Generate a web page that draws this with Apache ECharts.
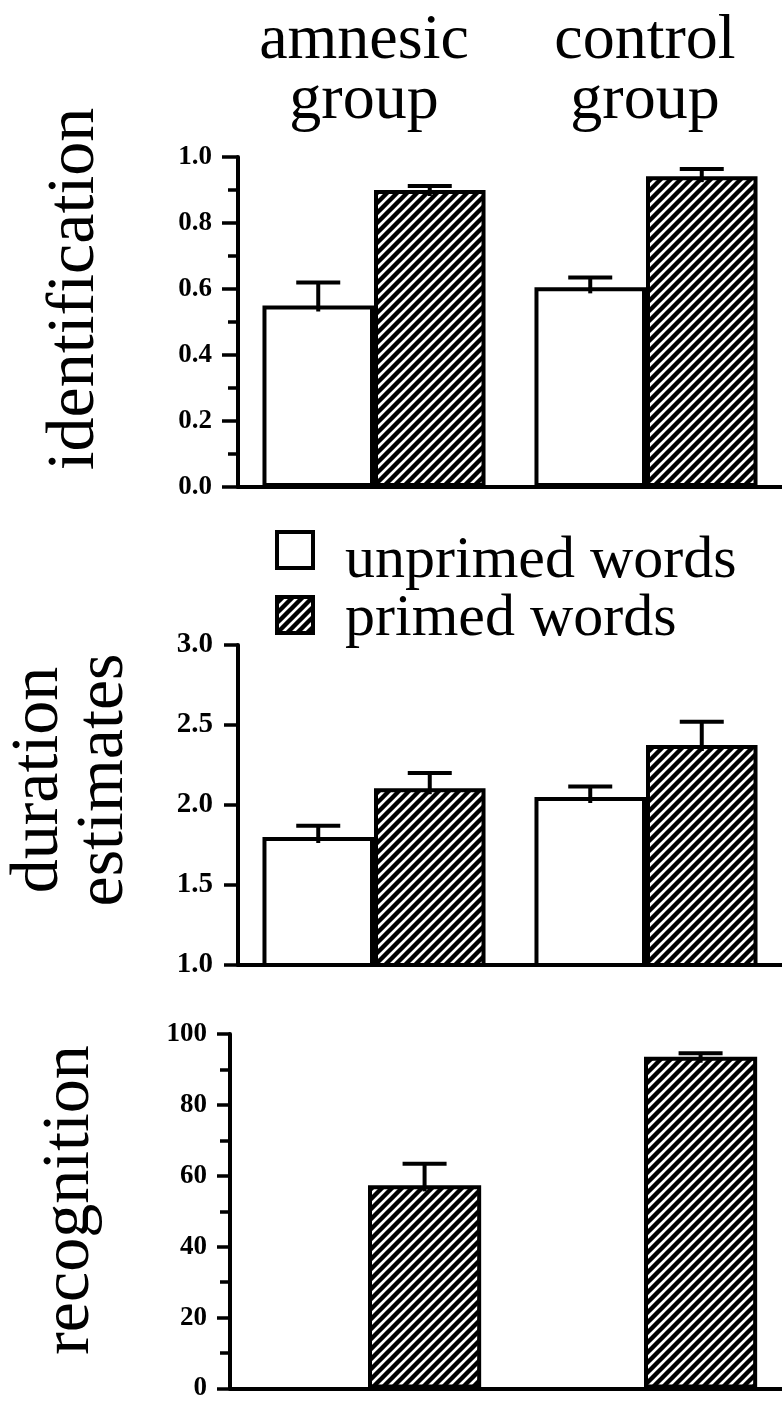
<!DOCTYPE html>
<html>
<head>
<meta charset="utf-8">
<script src="https://cdn.jsdelivr.net/npm/echarts@6/dist/echarts.min.js"></script>
<style>
html,body{margin:0;padding:0;background:#fff;}
#chart{width:782px;height:1402px;}
</style>
</head>
<body>
<div id="chart"></div>
<script>
// ---------------- data ----------------
const categories = ['amnesic group', 'control group'];
const seriesNames = ['unprimed words', 'primed words'];
const groupTitles = ['amnesic\ngroup', 'control\ngroup'];
const panelNames = ['identification', 'duration\nestimates', 'recognition'];

const identUnprimed = [0.55, 0.605];
const identUnprimedErr = [0.07, 0.03];
const identPrimed = [0.90, 0.942];
const identPrimedErr = [0.012, 0.022];

const durUnprimed = [1.80, 2.05];
const durUnprimedErr = [0.07, 0.065];
const durPrimed = [2.105, 2.375];
const durPrimedErr = [0.095, 0.145];

const recogUnprimed = ['-', '-'];
const recogPrimed = [57.3, 93.6];
const recogPrimedErr = [6.1, 1.0];

const identTicks = {min: 0, max: 1, interval: 0.2, digits: 1};
const durTicks = {min: 1, max: 3, interval: 0.5, digits: 1};
const recogTicks = {min: 0, max: 100, interval: 20, digits: 0};

// ---------------- styles ----------------
const SERIF = '"Liberation Serif", "DejaVu Serif", serif';
const BARW = 0.41;

function hatchCanvas() {
  const c = document.createElement('canvas');
  c.width = 10; c.height = 10;
  const g = c.getContext('2d');
  g.fillStyle = '#fff';
  g.fillRect(0, 0, 10, 10);
  g.strokeStyle = '#000';
  g.lineWidth = 4.4;
  g.beginPath();
  g.moveTo(-5, 5); g.lineTo(5, -5);
  g.moveTo(-1, 11); g.lineTo(11, -1);
  g.moveTo(5, 15); g.lineTo(15, 5);
  g.stroke();
  return c;
}
const hatch = {image: hatchCanvas(), repeat: 'repeat'};

const unprimedStyle = {color: '#fff', borderColor: '#000', borderWidth: 4};
const primedStyle = {color: hatch, borderColor: '#000', borderWidth: 4};

function errRender(side) {
  return function (params, api) {
    const i = api.value(0), v = api.value(1), e = api.value(2);
    const base = api.coord([i, v]);
    const top = api.coord([i, v + e]);
    const band = api.size([1, 0])[0];
    const cx = base[0] + side * band * BARW / 2;
    const half = 22;
    return {
      type: 'group',
      children: [
        {type: 'line', shape: {x1: cx, y1: base[1] + 6, x2: cx, y2: top[1]}, style: {stroke: '#000', lineWidth: 4}},
        {type: 'line', shape: {x1: cx - half, y1: top[1], x2: cx + half, y2: top[1]}, style: {stroke: '#000', lineWidth: 4}}
      ]
    };
  };
}
function errData(vals, errs) {
  return vals.map((v, i) => [i, v, errs[i]]);
}

const grids = [
  {left: 238, right: 0, top: 157, height: 330},
  {left: 238, right: 0, top: 645, height: 320},
  {left: 230, right: 0, top: 1034, height: 355}
];

function xAx(gi) {
  return {
    type: 'category', gridIndex: gi, data: categories,
    axisLabel: {show: false}, axisTick: {show: false},
    axisLine: {show: true, lineStyle: {color: '#000', width: 4}}
  };
}
function yAx(gi, t, minor, tickLen, margin, fs) {
  return {
    type: 'value', gridIndex: gi, min: t.min, max: t.max, interval: t.interval,
    splitLine: {show: false},
    axisLine: {show: true, lineStyle: {color: '#000', width: 4}},
    axisTick: {show: true, length: tickLen, lineStyle: {color: '#000', width: 3.5}},
    minorTick: {show: minor, splitNumber: 2, length: 10, lineStyle: {color: '#000', width: 3.5}},
    axisLabel: {
      margin: margin, color: '#000', fontFamily: SERIF, fontWeight: 'bold', fontSize: fs,
      formatter: v => v.toFixed(t.digits)
    }
  };
}

const series = [];
function addPanel(gi, unp, pri, unpErr, priErr) {
  series.push({name: seriesNames[0], type: 'bar', xAxisIndex: gi, yAxisIndex: gi, data: unp,
    barWidth: (BARW * 100) + '%', barGap: '0%', itemStyle: unprimedStyle, silent: true});
  series.push({name: seriesNames[1], type: 'bar', xAxisIndex: gi, yAxisIndex: gi, data: pri,
    barWidth: (BARW * 100) + '%', barGap: '0%', itemStyle: primedStyle, silent: true});
  if (unpErr) series.push({name: 'err', type: 'custom', xAxisIndex: gi, yAxisIndex: gi, z: 3,
    renderItem: errRender(-1), data: errData(unp, unpErr), encode: {x: 0, y: 1}, silent: true});
  if (priErr) series.push({name: 'err', type: 'custom', xAxisIndex: gi, yAxisIndex: gi, z: 3,
    renderItem: errRender(1), data: errData(pri, priErr), encode: {x: 0, y: 1}, silent: true});
}
addPanel(0, identUnprimed, identPrimed, identUnprimedErr, identPrimedErr);
addPanel(1, durUnprimed, durPrimed, durUnprimedErr, durPrimedErr);
addPanel(2, recogUnprimed, recogPrimed, null, recogPrimedErr);

function txt(x, y, text, size, rot, lh, align) {
  return {
    type: 'text', x: x, y: y, rotation: rot || 0, silent: true,
    style: {text: text, fill: '#000', font: size + 'px ' + SERIF, textAlign: align || 'center',
      textVerticalAlign: 'middle', lineHeight: lh || size}
  };
}
function legendBox(y, fill) {
  return {type: 'rect', silent: true, shape: {x: 277, y: y, width: 36, height: 36},
    style: {fill: fill, stroke: '#000', lineWidth: 4}};
}

const option = {
  backgroundColor: '#fff',
  animation: false,
  grid: grids,
  xAxis: [xAx(0), xAx(1), xAx(2)],
  yAxis: [
    yAx(0, identTicks, true, 16, 26, 27),
    yAx(1, durTicks, false, 14, 25, 29),
    yAx(2, recogTicks, true, 13, 23, 27)
  ],
  graphic: [
    txt(364, 71, groupTitles[0], 64, 0, 60),
    txt(645, 71, groupTitles[1], 64, 0, 60),
    txt(75, 289, panelNames[0], 68, Math.PI / 2),
    txt(72, 780, panelNames[1], 68, Math.PI / 2, 65),
    txt(70, 1200, panelNames[2], 68, Math.PI / 2),
    legendBox(532, '#fff'),
    legendBox(597, hatch),
    txt(345, 561, seriesNames[0], 60, 0, 60, 'left'),
    txt(345, 619, seriesNames[1], 60, 0, 60, 'left')
  ],
  series: series
};

const chart = echarts.init(document.getElementById('chart'), null, {renderer: 'canvas'});
chart.setOption(option);
</script>
</body>
</html>
